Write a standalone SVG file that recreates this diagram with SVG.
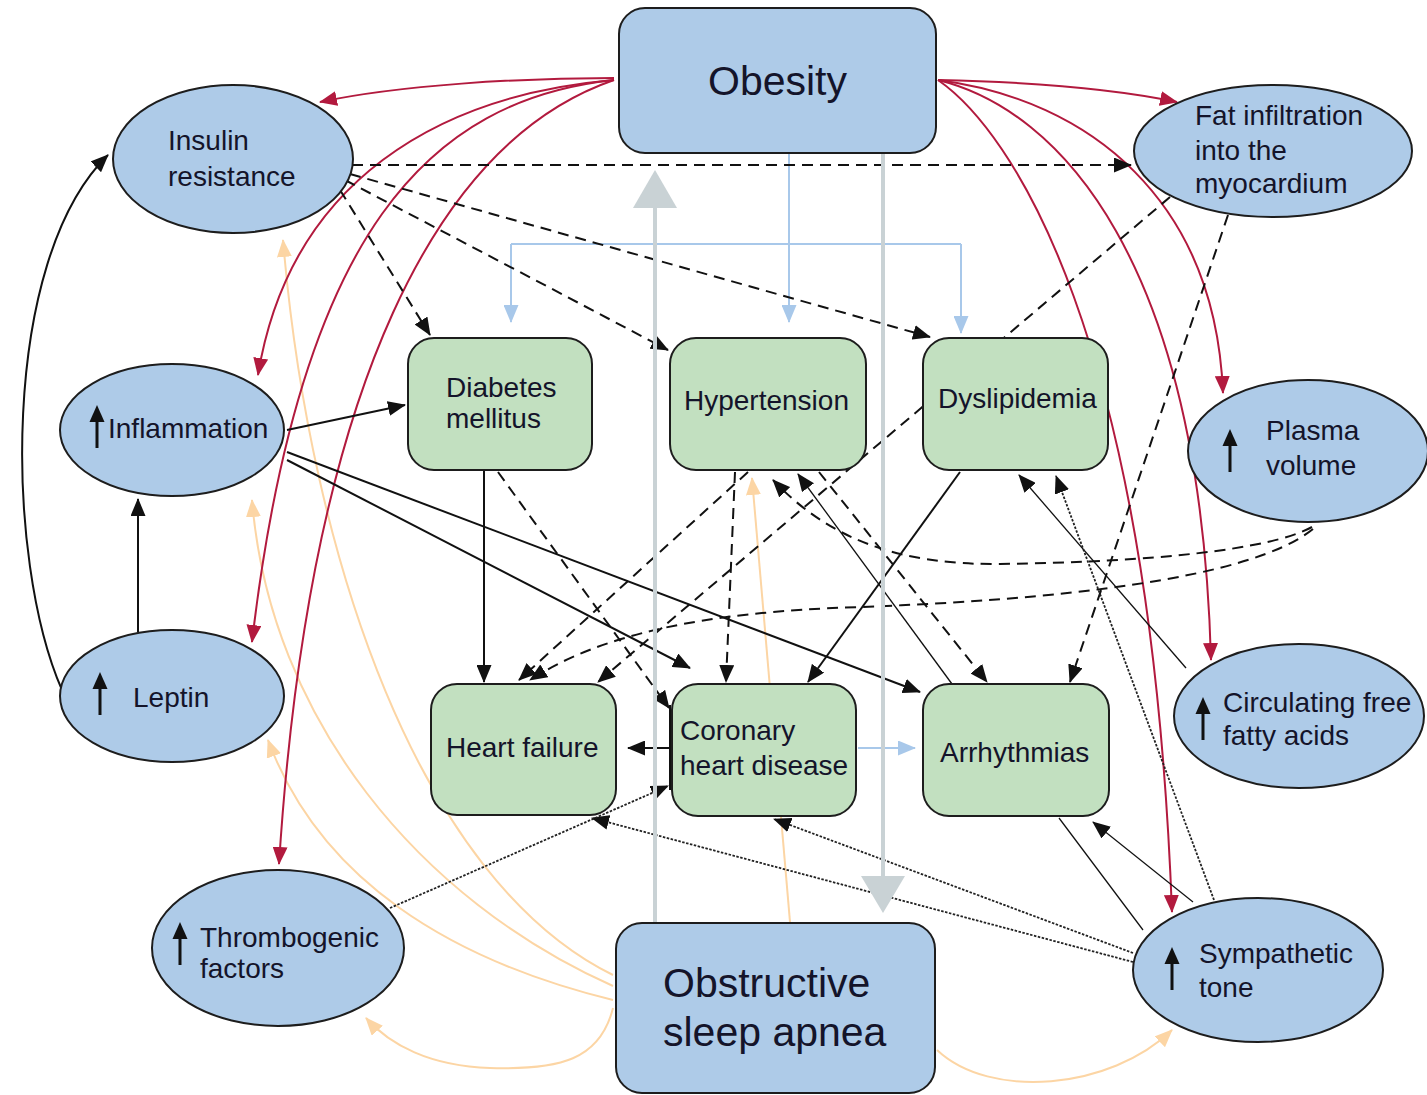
<svg xmlns="http://www.w3.org/2000/svg" width="1427" height="1095" viewBox="0 0 1427 1095">
<style>
.box{stroke:#1d1d1d;stroke-width:2}
.ob{fill:#aecbe8}
.gr{fill:#c2e0c0}
text{font-family:"Liberation Sans",Arial,sans-serif;font-size:28px;fill:#14142a}
.big{font-size:41px}
.red{fill:none;stroke:#b21a3e;stroke-width:2;marker-end:url(#aR)}
.org{fill:none;stroke:#fcd5a4;stroke-width:2;marker-end:url(#aO)}
.blk{fill:none;stroke:#111;stroke-width:2;marker-end:url(#aB)}
.dsh{fill:none;stroke:#111;stroke-width:2;stroke-dasharray:11 7;marker-end:url(#aB)}
.thin{fill:none;stroke:#111;stroke-width:1.3;marker-end:url(#aB)}
.dot{fill:none;stroke:#222;stroke-width:1.8;stroke-dasharray:2.5 1.5;marker-end:url(#aB)}
.lb{fill:none;stroke:#a8c8ea;stroke-width:2}
.lba{marker-end:url(#aL)}
.gry{fill:none;stroke:#c9d2d5;stroke-width:4}
.gryh{fill:#c9d2d5}
</style>
<defs>
<marker id="aB" markerUnits="userSpaceOnUse" markerWidth="18" markerHeight="15" viewBox="0 0 18 15" refX="17" refY="7.5" orient="auto"><path d="M0,0 L18,7.5 L0,15 Z" fill="#111"/></marker>
<marker id="aR" markerUnits="userSpaceOnUse" markerWidth="18" markerHeight="15" viewBox="0 0 18 15" refX="17" refY="7.5" orient="auto"><path d="M0,0 L18,7.5 L0,15 Z" fill="#b21a3e"/></marker>
<marker id="aO" markerUnits="userSpaceOnUse" markerWidth="18" markerHeight="15" viewBox="0 0 18 15" refX="17" refY="7.5" orient="auto"><path d="M0,0 L18,7.5 L0,15 Z" fill="#fcd5a4"/></marker>
<marker id="aL" markerUnits="userSpaceOnUse" markerWidth="18" markerHeight="15" viewBox="0 0 18 15" refX="17" refY="7.5" orient="auto"><path d="M0,0 L18,7.5 L0,15 Z" fill="#a8c8ea"/></marker>
<g id="up"><path d="M0,0 V-30" stroke="#111" stroke-width="3"/><path d="M-7.5,-26 L7.5,-26 L0,-43 Z" fill="#111"/></g>
</defs>

<g id="connectors">
  <!-- orange (OSA) -->
  <path class="org" d="M790,922 L752,478"/>
  <path class="org" d="M613,975 C420,880 310,560 283,240"/>
  <path class="org" d="M613,986 C420,900 270,720 252,500"/>
  <path class="org" d="M613,1000 C450,960 320,880 268,740"/>
  <path class="org" d="M613,1008 C600,1060 560,1070 490,1068 C430,1066 390,1045 366,1018"/>
  <path class="org" d="M937,1050 C990,1100 1110,1090 1172,1030"/>

  <!-- red (Obesity) -->
  <path class="red" d="M614,78 C520,78 400,85 320,102"/>
  <path class="red" d="M614,80 C440,95 290,180 258,375"/>
  <path class="red" d="M614,80 C430,100 300,230 252,642"/>
  <path class="red" d="M614,80 C440,140 310,380 279,864"/>
  <path class="red" d="M938,80 C1030,82 1110,88 1177,102"/>
  <path class="red" d="M938,80 C1090,100 1215,200 1223,393"/>
  <path class="red" d="M938,80 C1060,110 1200,260 1211,660"/>
  <path class="red" d="M938,80 C1010,130 1150,330 1172,912"/>

  <!-- light blue -->
  <path class="lb lba" d="M789,153 L789,322"/>
  <path class="lb" d="M511,244 L961,244"/>
  <path class="lb lba" d="M511,244 L511,322"/>
  <path class="lb lba" d="M961,244 L961,333"/>
  <path class="lb lba" d="M858,748 L915,748"/>

  <!-- black dashed -->
  <path class="dsh" d="M352,165 L1131,165"/>
  <path class="dsh" d="M340,190 L430,335"/>
  <path class="dsh" d="M345,180 L668,350"/>
  <path class="dsh" d="M350,174 L930,337"/>
  <path class="dsh" d="M1170,197 L598,682"/>
  <path class="dsh" d="M1228,215 L1070,682"/>
  <path class="dsh" d="M748,472 L519,680"/>
  <path class="dsh" d="M735,472 L726,682"/>
  <path class="dsh" d="M819,472 L987,682"/>
  <path class="dsh" d="M498,472 L669,708"/>
  <path class="dsh" d="M1312,527 C1270,550 1150,562 1000,564 C900,565 830,540 773,480"/>
  <path class="dsh" d="M1313,529 C1250,580 1050,600 860,607 C700,612 600,635 530,680"/>

  <!-- black solid -->
  <path class="blk" d="M62,690 C5,560 0,260 108,155"/>
  <path class="blk" d="M138,632 L138,499"/>
  <path class="blk" d="M287,430 L405,405"/>
  <path class="blk" d="M287,460 L690,668"/>
  <path class="blk" d="M287,452 L920,692"/>
  <path class="blk" d="M484,471 L484,682"/>
  <path class="blk" d="M960,472 L808,682"/>
  <path fill="none" stroke="#111" stroke-width="2" d="M670,705 L670,790"/>
  <path class="blk" d="M670,748 L628,748"/>
  <path class="thin" d="M1186,668 L1019,475"/>
  <path class="thin" d="M952,684 L798,474"/>
  <path class="thin" d="M1193,902 L1093,822"/>
  <path fill="none" stroke="#111" stroke-width="1.3" d="M1143,930 L1059,818"/>

  <!-- dotted -->
  <path class="dot" d="M1214,900 L1056,476"/>
  <path class="dot" d="M1133,953 L774,819"/>
  <path class="dot" d="M1133,962 L592,818"/>
  <path class="dot" d="M390,908 L668,786"/>

  <!-- gray thick -->
  <path class="gry" d="M655,922 L655,205"/>
  <path class="gryh" d="M633,208 L677,208 L655,170 Z"/>
  <path class="gry" d="M883,153 L883,878"/>
  <path class="gryh" d="M861,876 L905,876 L883,913 Z"/>
</g>

<g id="obesity"><rect class="box ob" x="619" y="8" width="317" height="145" rx="26"/><text class="big" x="708" y="95">Obesity</text></g>
<g id="osa"><rect class="box ob" x="616" y="923" width="319" height="170" rx="26"/><text class="big" x="663" y="997">Obstructive</text><text class="big" x="663" y="1046">sleep apnea</text></g>

<g id="insulin"><ellipse class="box ob" cx="233" cy="159" rx="120" ry="74"/><text x="168" y="150">Insulin</text><text x="168" y="186">resistance</text></g>
<g id="inflammation"><ellipse class="box ob" cx="172" cy="430" rx="112" ry="66"/><use href="#up" x="97" y="448"/><text x="108" y="438">Inflammation</text></g>
<g id="leptin"><ellipse class="box ob" cx="172" cy="696" rx="112" ry="66"/><use href="#up" x="100" y="715"/><text x="133" y="707">Leptin</text></g>
<g id="thrombogenic"><ellipse class="box ob" cx="278" cy="948" rx="126" ry="78"/><use href="#up" x="180" y="965"/><text x="200" y="947">Thrombogenic</text><text x="200" y="978">factors</text></g>
<g id="fat"><ellipse class="box ob" cx="1273" cy="151" rx="139" ry="66"/><text x="1195" y="125">Fat infiltration</text><text x="1195" y="160">into the</text><text x="1195" y="193">myocardium</text></g>
<g id="plasma"><ellipse class="box ob" cx="1308" cy="451" rx="120" ry="71"/><use href="#up" x="1230" y="472"/><text x="1266" y="440">Plasma</text><text x="1266" y="475">volume</text></g>
<g id="ffa"><ellipse class="box ob" cx="1299" cy="716" rx="125" ry="72"/><use href="#up" x="1203" y="740"/><text x="1223" y="712">Circulating free</text><text x="1223" y="745">fatty acids</text></g>
<g id="sympathetic"><ellipse class="box ob" cx="1258" cy="970" rx="125" ry="72"/><use href="#up" x="1172" y="990"/><text x="1199" y="963">Sympathetic</text><text x="1199" y="997">tone</text></g>

<g id="diabetes"><rect class="box gr" x="408" y="338" width="184" height="132" rx="26"/><text x="446" y="397">Diabetes</text><text x="446" y="428">mellitus</text></g>
<g id="hypertension"><rect class="box gr" x="670" y="338" width="196" height="132" rx="26"/><text x="684" y="410">Hypertension</text></g>
<g id="dyslipidemia"><rect class="box gr" x="923" y="338" width="185" height="132" rx="26"/><text x="938" y="408">Dyslipidemia</text></g>
<g id="heartfailure"><rect class="box gr" x="431" y="684" width="185" height="131" rx="26"/><text x="446" y="757">Heart failure</text></g>
<g id="chd"><rect class="box gr" x="672" y="684" width="184" height="132" rx="26"/><text x="680" y="740">Coronary</text><text x="680" y="775">heart disease</text></g>
<g id="arrhythmias"><rect class="box gr" x="923" y="684" width="186" height="132" rx="26"/><text x="940" y="762">Arrhythmias</text></g>
</svg>
